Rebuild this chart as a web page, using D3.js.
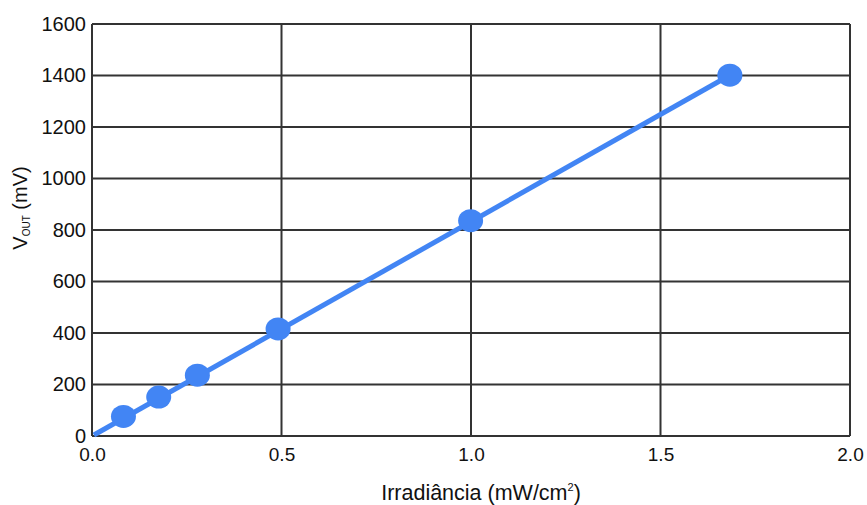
<!DOCTYPE html>
<html>
<head>
<meta charset="utf-8">
<script src="https://cdn.jsdelivr.net/npm/d3@7"></script>
<style>
body { margin: 0; background: #fff; }
text { font-family: "Liberation Sans", Arial, sans-serif; fill: #111; }
</style>
</head>
<body>
<svg id="chart" width="867" height="505"></svg>
<script>
const irradiance = [0.083, 0.176, 0.278, 0.491, 0.999, 1.683];
const vout = [76, 151, 236, 416, 836, 1401];
const fitX = [0.005, 1.683];
const fitY = [4, 1401];
const xTicks = [0, 0.5, 1.0, 1.5, 2.0];
const yTicks = [0, 200, 400, 600, 800, 1000, 1200, 1400, 1600];

const margin = {left: 92, right: 17, top: 24, bottom: 69};
const W = 867, H = 505;
const svg = d3.select("#chart");
const x = d3.scaleLinear().domain([0, 2]).range([margin.left, W - margin.right]);
const y = d3.scaleLinear().domain([0, 1600]).range([H - margin.bottom, margin.top]);

const grid = svg.append("g");
grid.selectAll("line.v").data(xTicks).enter().append("line")
  .attr("x1", d => x(d)).attr("x2", d => x(d))
  .attr("y1", y(0)).attr("y2", y(1600))
  .attr("stroke", "#333").attr("stroke-width", 2);
grid.selectAll("line.h").data(yTicks).enter().append("line")
  .attr("y1", d => y(d)).attr("y2", d => y(d))
  .attr("x1", x(0)).attr("x2", x(2))
  .attr("stroke", "#333").attr("stroke-width", 2);

const xAxis = d3.axisBottom(x).tickValues(xTicks).tickFormat(d3.format(".1f")).tickSize(0).tickPadding(12);
const gx = svg.append("g").attr("transform", `translate(0,${y(0)})`).call(xAxis);
gx.select(".domain").remove();
gx.selectAll("text").style("font-size", "19px").attr("fill", "#111").attr("font-family", "Liberation Sans, Arial, sans-serif");

const yAxis = d3.axisLeft(y).tickValues(yTicks).tickFormat(d3.format("d")).tickSize(0).tickPadding(6);
const gy = svg.append("g").attr("transform", `translate(${x(0)},0)`).call(yAxis);
gy.select(".domain").remove();
gy.selectAll("text").style("font-size", "20px").attr("fill", "#111").attr("font-family", "Liberation Sans, Arial, sans-serif");

const line = d3.line().x(d => x(d[0])).y(d => y(d[1]));
svg.append("path").datum(fitX.map((v, i) => [v, fitY[i]]))
  .attr("d", line).attr("fill", "none").attr("stroke", "#4285f4").attr("stroke-width", 5);

svg.selectAll("ellipse").data(irradiance).enter().append("ellipse")
  .attr("cx", d => x(d)).attr("cy", (d, i) => y(vout[i]))
  .attr("rx", 12.5).attr("ry", 11.5).attr("fill", "#4285f4");

const xt = svg.append("text").attr("x", 481).attr("y", 500).attr("text-anchor", "middle").style("font-size", "21.5px");
xt.append("tspan").text("Irradiância (mW/cm");
xt.append("tspan").attr("dy", -9).style("font-size", "11px").text("2");
xt.append("tspan").attr("dy", 9).text(")");

const yt = svg.append("text").attr("transform", `translate(27,208) rotate(-90)`).attr("text-anchor", "middle").style("font-size", "20px");
yt.append("tspan").text("V");
yt.append("tspan").attr("dy", 3).style("font-size", "10px").text("OUT");
yt.append("tspan").attr("dy", -3).text(" (mV)");
</script>
</body>
</html>
